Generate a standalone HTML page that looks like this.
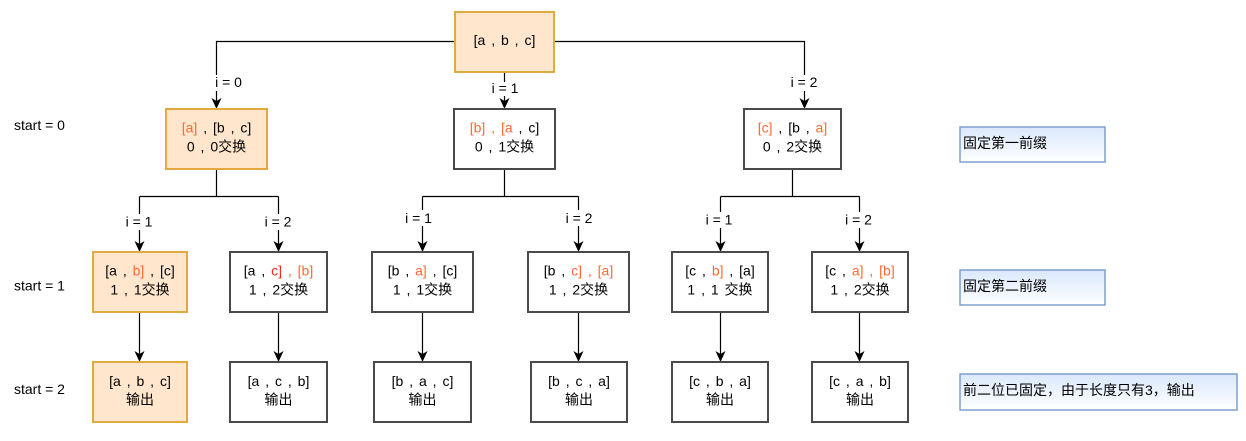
<!DOCTYPE html>
<html><head><meta charset="utf-8">
<style>
html,body{margin:0;padding:0;background:#fff;}
svg{display:block;}
text{font-family:"Liberation Sans","Noto Sans CJK SC",sans-serif;font-size:14px;fill:#000;}
.n{text-anchor:middle;word-spacing:2px;}
.o{fill:#ff6a33;}
.r{fill:#ff2a1a;}
.lbl{text-anchor:middle;}
</style></head>
<body>
<svg width="1246" height="441" viewBox="0 0 1246 441" xmlns="http://www.w3.org/2000/svg">
<defs>
<linearGradient id="g" x1="0" y1="0" x2="0" y2="1">
<stop offset="0" stop-color="#dae8fc"/><stop offset="1" stop-color="#ffffff"/>
</linearGradient>
</defs>

<!-- connectors -->
<g stroke="#000" stroke-width="1.2" fill="none">
<path d="M455,41.5 H216.5 V101"/>
<path d="M554,41.5 H804.5 V101"/>
<path d="M504.5,72 V101"/>
<path d="M216.5,169 V196.5 M139.5,196.5 H278.5 M139.5,196.5 V244 M278.5,196.5 V244"/>
<path d="M504.5,169 V196.5 M422.5,196.5 H578.5 M422.5,196.5 V244 M578.5,196.5 V244"/>
<path d="M792.5,169 V196.5 M720.5,196.5 H859.5 M720.5,196.5 V244 M859.5,196.5 V244"/>
<path d="M139.5,312 V354 M278.5,312 V354 M422.5,312 V354 M578.5,312 V354 M720.5,312 V354 M859.5,312 V354"/>
</g>

<!-- arrowheads -->
<g fill="#000">
<polygon points="216.5,109 211.5,98 216.5,101 221.5,98"/>
<polygon points="504.5,109 499.5,98 504.5,101 509.5,98"/>
<polygon points="804.5,109 799.5,98 804.5,101 809.5,98"/>
<polygon points="139.5,252 134.5,241 139.5,244 144.5,241"/>
<polygon points="278.5,252 273.5,241 278.5,244 283.5,241"/>
<polygon points="422.5,252 417.5,241 422.5,244 427.5,241"/>
<polygon points="578.5,252 573.5,241 578.5,244 583.5,241"/>
<polygon points="720.5,252 715.5,241 720.5,244 725.5,241"/>
<polygon points="859.5,252 854.5,241 859.5,244 864.5,241"/>
<polygon points="139.5,362 134.5,351 139.5,354 144.5,351"/>
<polygon points="278.5,362 273.5,351 278.5,354 283.5,351"/>
<polygon points="422.5,362 417.5,351 422.5,354 427.5,351"/>
<polygon points="578.5,362 573.5,351 578.5,354 583.5,351"/>
<polygon points="720.5,362 715.5,351 720.5,354 725.5,351"/>
<polygon points="859.5,362 854.5,351 859.5,354 864.5,351"/>
</g>

<!-- edge labels with white backgrounds -->
<g fill="#fff">
<rect x="214" y="75" width="30" height="16"/>
<rect x="490" y="82" width="30" height="14"/>
<rect x="790" y="75" width="30" height="16"/>
<rect x="125" y="214" width="30" height="16"/>
<rect x="264" y="214" width="30" height="16"/>
<rect x="404" y="210" width="30" height="16"/>
<rect x="564" y="210" width="30" height="16"/>
<rect x="706" y="212" width="30" height="16"/>
<rect x="845" y="212" width="30" height="16"/>
</g>
<text class="lbl" x="228.5" y="87">i = 0</text>
<text class="lbl" x="505" y="93">i = 1</text>
<text class="lbl" x="804" y="87">i = 2</text>
<text class="lbl" x="139" y="226.5">i = 1</text>
<text class="lbl" x="278" y="226.5">i = 2</text>
<text class="lbl" x="418.5" y="223">i = 1</text>
<text class="lbl" x="579" y="223">i = 2</text>
<text class="lbl" x="719" y="224.5">i = 1</text>
<text class="lbl" x="858.5" y="224.5">i = 2</text>

<!-- start labels -->
<text x="14" y="130">start = 0</text>
<text x="14" y="290.5">start = 1</text>
<text x="14" y="394">start = 2</text>

<!-- boxes -->
<g stroke-width="2">
<rect x="455" y="12" width="99" height="60" fill="#ffe6cc" stroke="#e0aa40"/>
<rect x="166" y="109" width="101" height="60" fill="#ffe6cc" stroke="#e0aa40"/>
<rect x="454" y="109" width="101" height="60" fill="#fff" stroke="#4a4a4a"/>
<rect x="744" y="109" width="97" height="60" fill="#fff" stroke="#4a4a4a"/>

<rect x="93" y="252" width="94" height="60" fill="#ffe6cc" stroke="#e0aa40"/>
<rect x="230" y="252" width="97" height="60" fill="#fff" stroke="#4a4a4a"/>
<rect x="372" y="252" width="101" height="60" fill="#fff" stroke="#4a4a4a"/>
<rect x="528" y="252" width="101" height="60" fill="#fff" stroke="#4a4a4a"/>
<rect x="672" y="252" width="96" height="60" fill="#fff" stroke="#4a4a4a"/>
<rect x="812" y="252" width="96" height="60" fill="#fff" stroke="#4a4a4a"/>

<rect x="93" y="362" width="94" height="60" fill="#ffe6cc" stroke="#e0aa40"/>
<rect x="230" y="362" width="97" height="60" fill="#fff" stroke="#4a4a4a"/>
<rect x="374" y="362" width="97" height="60" fill="#fff" stroke="#4a4a4a"/>
<rect x="531" y="362" width="96" height="60" fill="#fff" stroke="#4a4a4a"/>
<rect x="672" y="362" width="96" height="60" fill="#fff" stroke="#4a4a4a"/>
<rect x="812" y="362" width="96" height="60" fill="#fff" stroke="#4a4a4a"/>
</g>

<!-- blue note boxes -->
<g fill="url(#g)" stroke="#7f9fcf" stroke-width="1.5">
<rect x="960" y="127" width="145" height="35"/>
<rect x="960" y="270" width="145" height="35"/>
<rect x="960" y="374" width="277" height="36"/>
</g>
<text x="963" y="148">固定第一前缀</text>
<text x="963" y="291">固定第二前缀</text>
<text x="963" y="395">前二位已固定，由于长度只有3，输出</text>

<!-- box texts -->
<text class="n" x="504.5" y="45">[a , b , c]</text>

<text class="n" x="216.5" y="132.5"><tspan class="o">[a]</tspan> , [b , c]</text>
<text class="n" x="216.5" y="151.5">0 , 0交换</text>

<text class="n" x="504.5" y="132.5"><tspan class="o">[b] , [a</tspan> , c]</text>
<text class="n" x="504.5" y="151.5">0 , 1交换</text>

<text class="n" x="792.5" y="132.5"><tspan class="o">[c]</tspan> , [b , <tspan class="o">a]</tspan></text>
<text class="n" x="792.5" y="151.5">0 , 2交换</text>

<text class="n" x="140" y="275.5">[a , <tspan class="o">b]</tspan> , [c]</text>
<text class="n" x="140" y="294.5">1 , 1交换</text>

<text class="n" x="278.5" y="275.5">[a , <tspan class="r">c]</tspan><tspan class="o"> , [b]</tspan></text>
<text class="n" x="278.5" y="294.5">1 , 2交换</text>

<text class="n" x="422.5" y="275.5">[b , <tspan class="o">a]</tspan> , [c]</text>
<text class="n" x="422.5" y="294.5">1 , 1交换</text>

<text class="n" x="578.5" y="275.5">[b , <tspan class="o">c] , [a]</tspan></text>
<text class="n" x="578.5" y="294.5">1 , 2交换</text>

<text class="n" x="720" y="275.5">[c , <tspan class="o">b]</tspan> , [a]</text>
<text class="n" x="720" y="294.5">1 , 1 交换</text>

<text class="n" x="860" y="275.5">[c , <tspan class="o">a] , [b]</tspan></text>
<text class="n" x="860" y="294.5">1 , 2交换</text>

<text class="n" x="140" y="386">[a , b , c]</text>
<text class="n" x="140" y="404.5">输出</text>
<text class="n" x="278.5" y="386">[a , c , b]</text>
<text class="n" x="278.5" y="404.5">输出</text>
<text class="n" x="422.5" y="386">[b , a , c]</text>
<text class="n" x="422.5" y="404.5">输出</text>
<text class="n" x="579" y="386">[b , c , a]</text>
<text class="n" x="579" y="404.5">输出</text>
<text class="n" x="720" y="386">[c , b , a]</text>
<text class="n" x="720" y="404.5">输出</text>
<text class="n" x="860" y="386">[c , a , b]</text>
<text class="n" x="860" y="404.5">输出</text>
</svg>
</body></html>
